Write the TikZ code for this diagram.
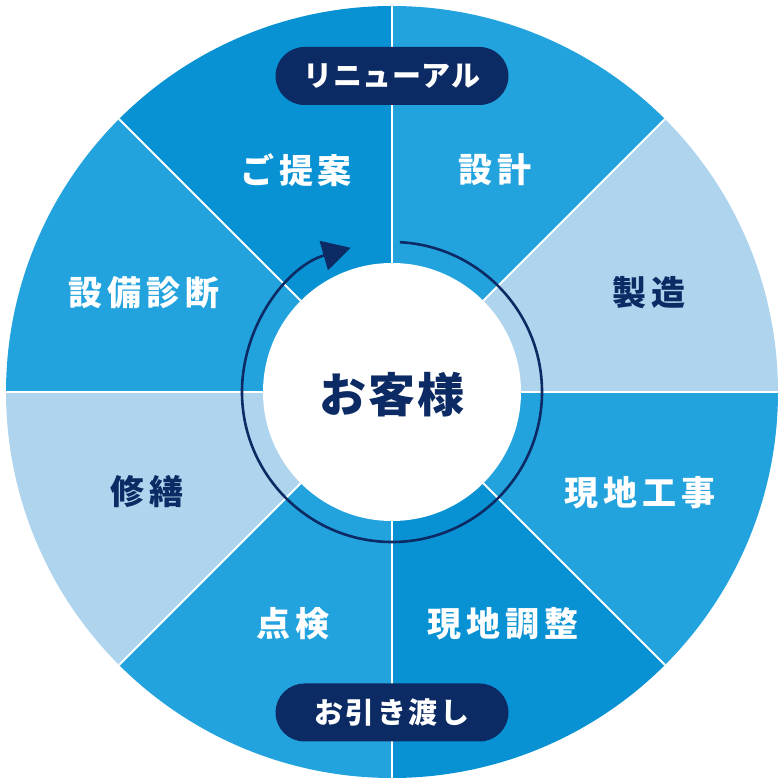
\documentclass[tikz,border=0pt]{standalone}
\usepackage{fontspec}
\setmainfont{Noto Sans CJK JP}
\usetikzlibrary{arrows.meta}
\definecolor{midblue}{HTML}{22A3DE}
\definecolor{darkblue}{HTML}{0892D3}
\definecolor{lightblue}{HTML}{AED4EE}
\definecolor{navy}{HTML}{0C2A64}
\tikzset{
  sep/.style={draw=white, line width=2pt},
  lbl/.style={font=\fontsize{34}{34}\selectfont\bfseries, inner sep=0pt},
  lblw/.style={lbl, text=white},
  lbln/.style={lbl, text=navy},
  pill/.style={fill=navy, rounded corners=29pt, minimum width=233pt, minimum height=58pt, inner sep=0pt, text=white, font=\fontsize{29}{29}\selectfont\bfseries},
  cycle arc/.style={draw=navy, line width=2.6pt, -{Triangle[length=28pt,width=30pt]}},
}
\begin{document}
\begin{tikzpicture}[x=1pt,y=1pt]
\useasboundingbox (0,0) rectangle (784,784);
\coordinate (c) at (392,392);
% sectors
\fill[darkblue]  (c) -- ++(90:386)  arc[start angle=90,  end angle=135, radius=386] -- cycle;
\fill[midblue]   (c) -- ++(45:386)  arc[start angle=45,  end angle=90,  radius=386] -- cycle;
\fill[lightblue] (c) -- ++(0:386)   arc[start angle=0,   end angle=45,  radius=386] -- cycle;
\fill[midblue]   (c) -- ++(-45:386) arc[start angle=-45, end angle=0,   radius=386] -- cycle;
\fill[darkblue]  (c) -- ++(-90:386) arc[start angle=-90, end angle=-45, radius=386] -- cycle;
\fill[midblue]   (c) -- ++(-135:386) arc[start angle=-135, end angle=-90, radius=386] -- cycle;
\fill[lightblue] (c) -- ++(180:386) arc[start angle=180, end angle=225, radius=386] -- cycle;
\fill[midblue]   (c) -- ++(135:386) arc[start angle=135, end angle=180, radius=386] -- cycle;
% separators
\foreach \a in {0,45,...,315} \draw[sep] (c) -- ++(\a:386);
% centre
\node[circle, fill=white, minimum size=258pt, inner sep=0pt] (cust) at (c) {};
\node[font=\fontsize{47}{47}\selectfont\bfseries, text=navy, inner sep=0pt] (custlabel) at (392,389) {お\hspace{2pt}客\hspace{2pt}様};
% cycle arrow
\draw[cycle arc] ([shift={(87:150)}]cust.center) arc[start angle=87, end angle=-254, radius=150];
% sector labels
\node[lblw] (teian) at (296,614) {ご\hspace{5pt}提\hspace{5pt}案};
\node[lblw] (sekkei) at (495,614) {設\hspace{5pt}計};
\node[lbln] (seizo) at (649,491) {製\hspace{5pt}造};
\node[lblw] (genchikoji) at (640,291) {現\hspace{5pt}地\hspace{5pt}工\hspace{5pt}事};
\node[lblw] (genchichosei) at (503,160) {現\hspace{5pt}地\hspace{5pt}調\hspace{5pt}整};
\node[lblw] (tenken) at (293,160) {点\hspace{5pt}検};
\node[lbln] (shuzen) at (147,292) {修\hspace{5pt}繕};
\node[lblw] (shindan) at (144,491) {設\hspace{5pt}備\hspace{5pt}診\hspace{5pt}断};
% pills
\node[pill] (renewal) at (392,708) {リ\hspace{0.5pt}ニ\hspace{0.5pt}ュ\hspace{0.5pt}ー\hspace{0.5pt}ア\hspace{0.5pt}ル};
\node[pill] (handover) at (392,71.5) {お\hspace{2.5pt}引\hspace{2.5pt}き\hspace{2.5pt}渡\hspace{2.5pt}し};
\end{tikzpicture}
\end{document}
